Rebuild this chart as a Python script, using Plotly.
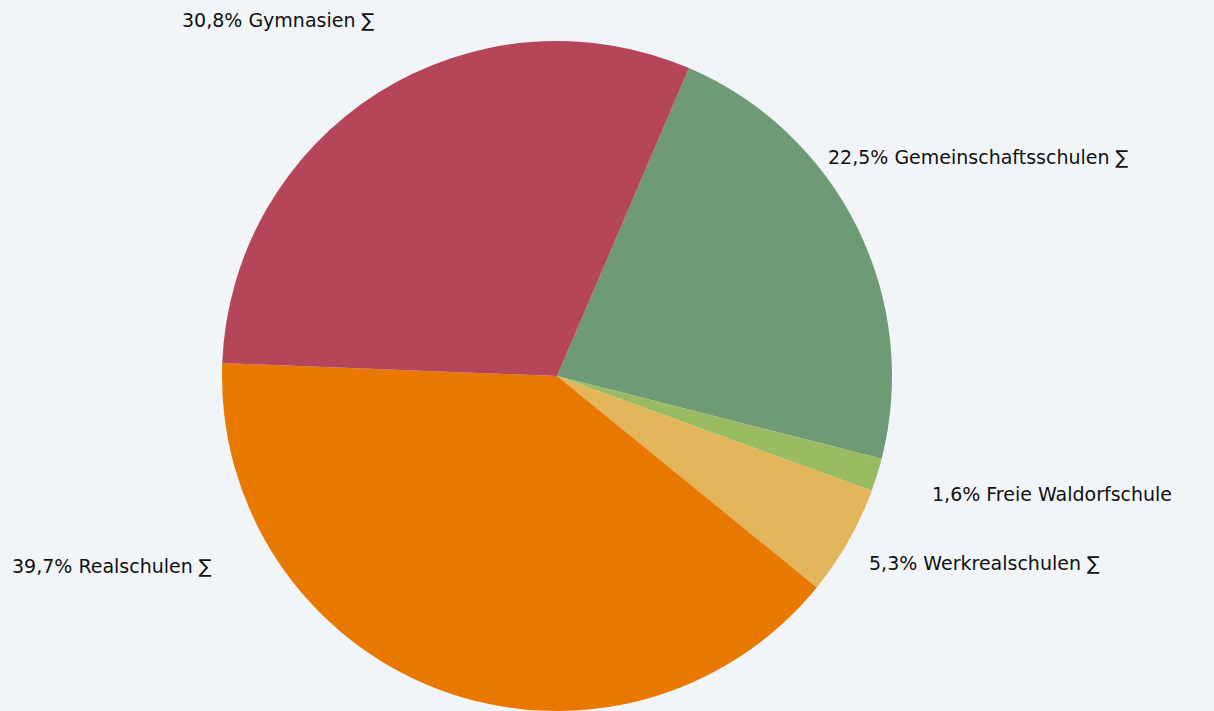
import plotly.graph_objects as go

categories = ["Gemeinschaftsschulen ∑", "Freie Waldorfschule", "Werkrealschulen ∑",
              "Realschulen ∑", "Gymnasien ∑"]
shares = [22.5, 1.6, 5.3, 39.7, 30.8]
colors = ["#6E9A76", "#9BBB62", "#E2B55A", "#E87800", "#B5465A"]

# label anchor positions in pixels (left edge / vertical centre), window 1214x711
label_pos = {
    "Gemeinschaftsschulen ∑": (826, 157, "left"),
    "Freie Waldorfschule": (930, 494, "left"),
    "Werkrealschulen ∑": (867, 563, "left"),
    "Realschulen ∑": (10, 566, "left"),
    "Gymnasien ∑": (180, 20, "left"),
}

W, H = 1214, 711
cx, cy, r = 557, 376, 335

fig = go.Figure(go.Pie(
    labels=categories,
    values=shares,
    sort=False,
    direction="clockwise",
    rotation=23.2,
    marker=dict(colors=colors, line=dict(width=0)),
    textinfo="none",
    hoverinfo="label+percent",
    showlegend=False,
    domain=dict(x=[(cx - r) / W, (cx + r) / W], y=[(H - cy - r) / H, (H - cy + r) / H]),
))

annotations = []
for cat, val in zip(categories, shares):
    px, py, anchor = label_pos[cat]
    annotations.append(dict(
        x=px / W, y=1 - py / H, xref="paper", yref="paper",
        text=f"{val:.1f}".replace(".", ",") + "% " + cat,
        showarrow=False, xanchor=anchor, yanchor="middle",
        font=dict(family="DejaVu Sans", size=19, color="#111111"),
    ))

fig.update_layout(
    width=W, height=H,
    margin=dict(l=0, r=0, t=0, b=0),
    paper_bgcolor="#F2F5F8",
    plot_bgcolor="#F2F5F8",
    annotations=annotations,
)

fig.write_html(
    "out.html",
    config={"displayModeBar": False},
    post_script="document.body.style.margin='0';document.body.style.background='#F2F5F8';document.body.style.overflow='hidden';",
)
